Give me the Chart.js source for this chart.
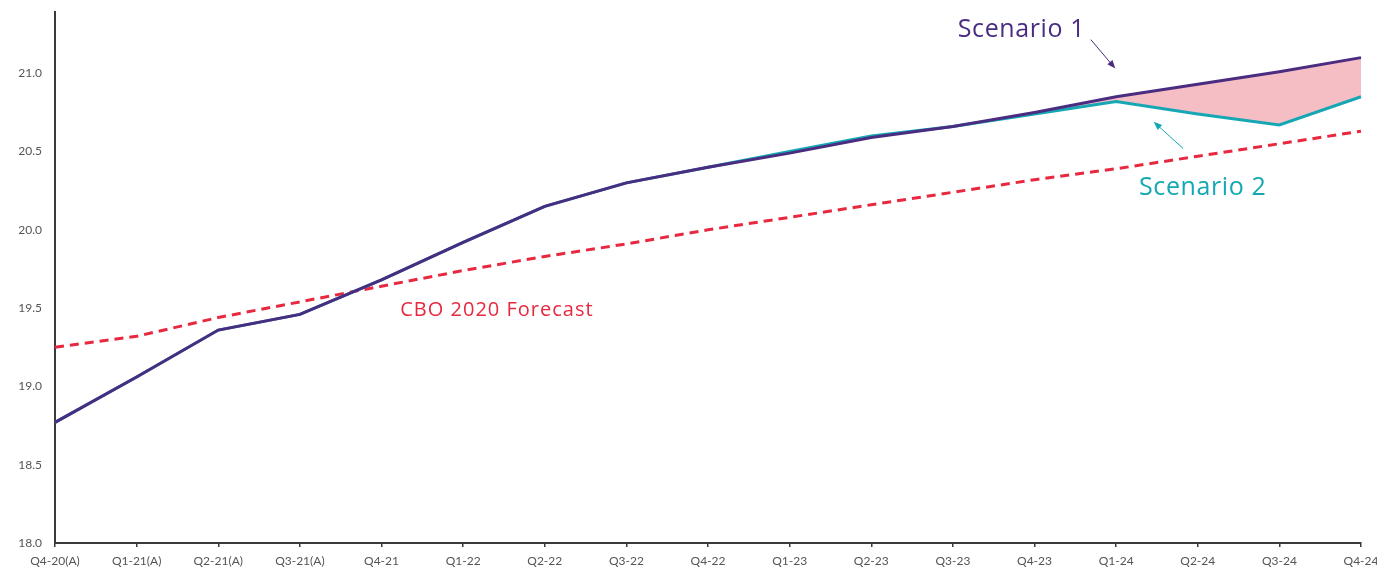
<!DOCTYPE html>
<html>
<head>
<meta charset="utf-8">
<script src="https://cdn.jsdelivr.net/npm/chart.js@4.4.1/dist/chart.umd.min.js"></script>
<style>
  html, body { margin: 0; padding: 0; background: #ffffff; }
  #wrap { width: 1377px; height: 568px; position: relative; }
</style>
</head>
<body>
<div id="wrap"><canvas id="chart" width="1377" height="568"></canvas></div>
<script>
// Quarterly categories
const quarters = [
  'Q4-20(A)', 'Q1-21(A)', 'Q2-21(A)', 'Q3-21(A)', 'Q4-21', 'Q1-22', 'Q2-22', 'Q3-22',
  'Q4-22', 'Q1-23', 'Q2-23', 'Q3-23', 'Q4-23', 'Q1-24', 'Q2-24', 'Q3-24', 'Q4-24'
];

// Series values
const scenario1 = [18.77, 19.06, 19.36, 19.46, 19.68, 19.92, 20.15, 20.30,
                   20.40, 20.49, 20.59, 20.66, 20.75, 20.85, 20.93, 21.01, 21.10];
const scenario2 = [18.77, 19.06, 19.36, 19.46, 19.68, 19.92, 20.15, 20.30,
                   20.40, 20.50, 20.60, 20.66, 20.74, 20.82, 20.74, 20.67, 20.85];
const cbo2020   = [19.25, 19.32, 19.44, 19.54, 19.64, 19.74, 19.83, 19.91,
                   20.00, 20.08, 20.16, 20.24, 20.32, 20.39, 20.47, 20.55, 20.63];

// Value axis ticks
const yTicks = [18.0, 18.5, 19.0, 19.5, 20.0, 20.5, 21.0];

const PURPLE = '#4a2c81';
const TEAL = '#15a8b4';
const RED = '#e8283f';
const PINK = 'rgba(244, 186, 194, 0.95)';

// Callout labels, positioned in data coordinates (category index, value)
const callouts = [
  { text: 'Scenario 1', color: PURPLE, size: 25, spacing: 0.6, at: [11.84, 21.28], align: 'center',
    arrow: { from: [12.69, 21.215], to: [12.99, 21.03] } },
  { text: 'Scenario 2', color: TEAL, size: 25, spacing: 0.6, at: [14.06, 20.27], align: 'center',
    arrow: { from: [13.82, 20.52], to: [13.46, 20.69] } },
  { text: 'CBO 2020 Forecast', color: RED, size: 20, spacing: 1, at: [4.23, 19.485], align: 'left' }
];

const calloutPlugin = {
  id: 'callouts',
  afterDatasetsDraw(chart) {
    const { ctx, scales: { x, y } } = chart;
    ctx.save();
    callouts.forEach(c => {
      ctx.font = c.size + 'px "Open Sans", "Noto Sans", sans-serif';
      if ('letterSpacing' in ctx) ctx.letterSpacing = c.spacing + 'px';
      ctx.fillStyle = c.color;
      ctx.textAlign = c.align;
      ctx.textBaseline = 'middle';
      ctx.fillText(c.text, x.getPixelForValue(c.at[0]), y.getPixelForValue(c.at[1]));
      if ('letterSpacing' in ctx) ctx.letterSpacing = '0px';
      if (c.arrow) {
        const x1 = x.getPixelForValue(c.arrow.from[0]);
        const y1 = y.getPixelForValue(c.arrow.from[1]);
        const x2 = x.getPixelForValue(c.arrow.to[0]);
        const y2 = y.getPixelForValue(c.arrow.to[1]);
        const ang = Math.atan2(y2 - y1, x2 - x1);
        const head = 9;
        ctx.strokeStyle = c.color;
        ctx.lineWidth = 1;
        ctx.beginPath();
        ctx.moveTo(x1, y1);
        ctx.lineTo(x2 - Math.cos(ang) * head * 0.8, y2 - Math.sin(ang) * head * 0.8);
        ctx.stroke();
        ctx.beginPath();
        ctx.moveTo(x2, y2);
        ctx.lineTo(x2 - head * Math.cos(ang - 0.38), y2 - head * Math.sin(ang - 0.38));
        ctx.lineTo(x2 - head * Math.cos(ang + 0.38), y2 - head * Math.sin(ang + 0.38));
        ctx.closePath();
        ctx.fill();
      }
    });
    ctx.restore();
  }
};

new Chart(document.getElementById('chart'), {
  type: 'line',
  data: {
    labels: quarters,
    datasets: [
      {
        label: 'Scenario 1',
        data: scenario1,
        borderColor: PURPLE,
        borderWidth: 3,
        pointRadius: 0,
        tension: 0,
        order: 0,
        fill: { target: 1, above: PINK, below: 'rgba(0,0,0,0)' }
      },
      {
        label: 'Scenario 2',
        data: scenario2,
        borderColor: TEAL,
        borderWidth: 3,
        pointRadius: 0,
        tension: 0,
        order: 1,
        fill: false
      },
      {
        label: 'CBO 2020 Forecast',
        data: cbo2020,
        borderColor: RED,
        borderWidth: 3,
        borderDash: [9, 6],
        pointRadius: 0,
        tension: 0,
        order: 2,
        fill: false
      }
    ]
  },
  options: {
    responsive: false,
    animation: false,
    layout: { padding: { top: 12, right: 0, left: 0, bottom: 0 } },
    plugins: {
      legend: { display: false },
      tooltip: { enabled: false },
      filler: { drawTime: 'beforeDatasetsDraw' }
    },
    scales: {
      x: {
        type: 'category',
        offset: false,
        afterFit(scale) {
          scale.height = 25;
          scale.paddingLeft = 0;
          scale.paddingRight = 16;
        },
        border: { display: true, color: '#3a3a3a', width: 2 },
        grid: { display: true, drawOnChartArea: false, drawTicks: true, tickLength: 4, color: '#3a3a3a', lineWidth: 1.5 },
        ticks: {
          color: '#555',
          font: { family: 'Lato, "Noto Sans", sans-serif', size: 12, lineHeight: 0.85 },
          padding: 9,
          maxRotation: 0,
          autoSkip: false
        }
      },
      y: {
        min: 18,
        max: 21.39,
        afterFit(scale) { scale.width = 55; },
        afterBuildTicks(scale) { scale.ticks = yTicks.map(v => ({ value: v })); },
        border: { display: true, color: '#3a3a3a', width: 2 },
        grid: { display: false },
        ticks: {
          color: '#555',
          font: { family: 'Lato, "Noto Sans", sans-serif', size: 12 },
          padding: 5,
          callback: v => Number(v).toFixed(1)
        }
      }
    }
  },
  plugins: [calloutPlugin]
});
</script>
</body>
</html>
